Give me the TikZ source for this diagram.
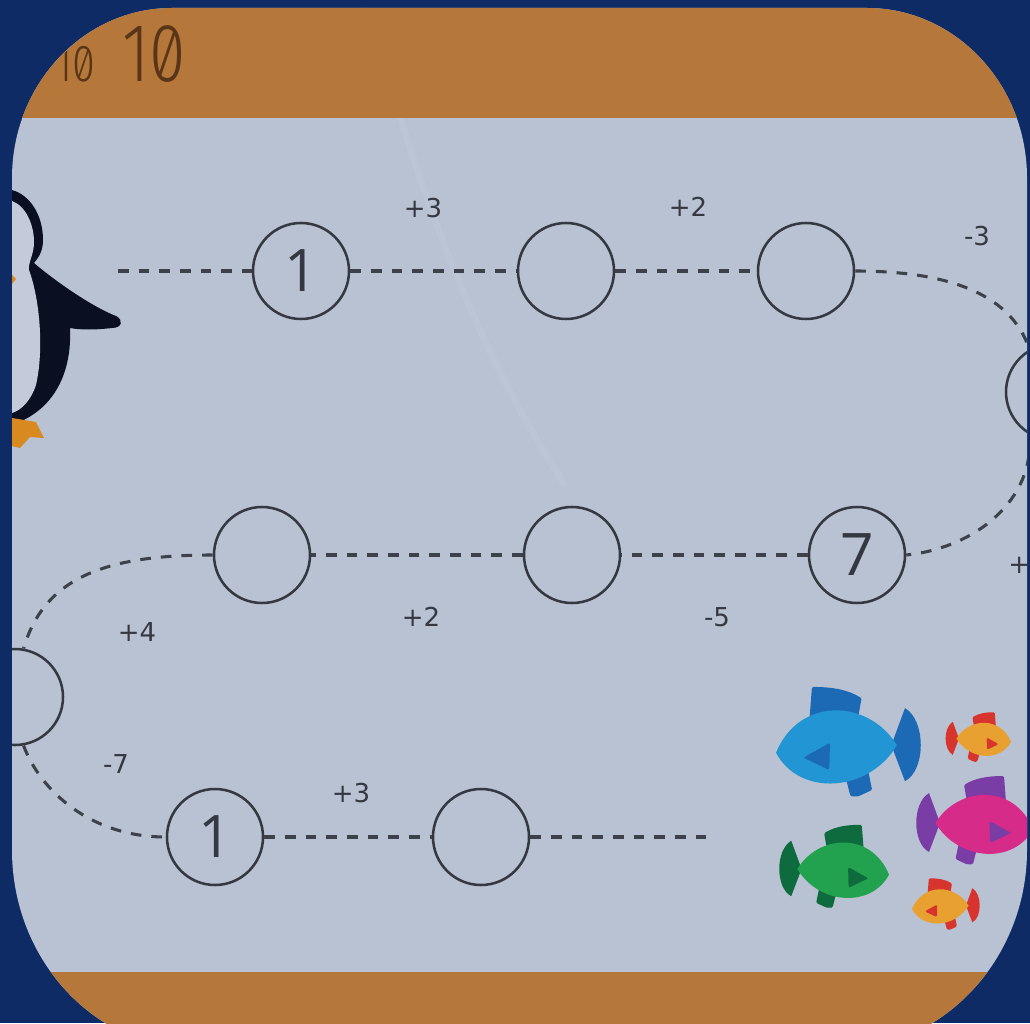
\documentclass[tikz,border=0pt]{standalone}
\usepackage{fontspec}
\setmainfont{Open Sans}
\newfontfamily\labelfont{DejaVu Sans}
\IfFontExistsTF{Fira Sans Light}
  {\newfontfamily\titlefont[FakeStretch=0.8, RawFeature=+zero]{Fira Sans Light}}
  {\newfontfamily\titlefont[FakeStretch=0.8, RawFeature=+zero]{Fira Sans}}
\definecolor{navy}{HTML}{0E2B66}
\definecolor{band}{HTML}{B5783A}
\definecolor{panel}{HTML}{B9C2D3}
\definecolor{ink}{HTML}{343842}
\definecolor{trailink}{HTML}{3C414C}
\definecolor{titleink}{HTML}{5A3518}
\definecolor{pengblack}{HTML}{0A0F22}
\definecolor{pengwhite}{HTML}{C3CADA}
\definecolor{pengorange}{HTML}{D98A1E}
\definecolor{blueA}{HTML}{2295D4}
\definecolor{blueB}{HTML}{1C6AB6}
\definecolor{greenA}{HTML}{22A24F}
\definecolor{greenB}{HTML}{0E6B3E}
\definecolor{pinkA}{HTML}{D62B88}
\definecolor{pinkB}{HTML}{7A3CA5}
\definecolor{goldA}{HTML}{E8A030}
\definecolor{goldB}{HTML}{D8342E}

% outline of the card with its wide rounded corners
\newcommand\cardoutline{(12,178) .. controls (12,84) and (84,8) .. (172,8)
  -- (867,8) .. controls (955,8) and (1027,84) .. (1027,178)
  -- (1027,850) .. controls (1027,960) and (942,1050) .. (837,1050)
  -- (200,1050) .. controls (95,1050) and (12,960) .. (12,850) -- cycle}

% one fish: x, y, size, direction (1 = facing right), body colour, fin colour
\newcommand\fish[6]{%
  \begin{scope}[shift={(#1,#2)}, xscale=#4*#3, yscale=#3]
    % tail
    \fill[#6] (-0.86,0.02) -- (-1.08,-0.58)
      .. controls (-1.42,-0.38) and (-1.42,0.42) .. (-1.08,0.6) -- cycle;
    % back fin
    \fill[#6, rounded corners=1pt] (0.46,-0.4) -- (0.42,-0.92)
      .. controls (0.1,-0.92) and (-0.15,-0.88) .. (-0.38,-0.74)
      -- (-0.32,-0.4) -- cycle;
    % belly fin
    \fill[#6, rounded corners=1pt] (-0.1,0.45) -- (-0.2,0.84) .. controls (-0.3,0.86) .. (-0.55,0.74)
      -- (-0.48,0.4) -- cycle;
    % body
    \fill[#5] (1,0.14) .. controls (0.62,-0.78) and (-0.5,-0.72) .. (-0.95,0.02)
      .. controls (-0.5,0.78) and (0.62,0.86) .. cycle;
    % eye
    \fill[#6, rounded corners=1.5pt] (0.56,0.22) -- (0.13,-0.02) -- (0.14,0.42) -- cycle;
  \end{scope}}

\tikzset{
  slot/.style={circle, draw=ink, line width=1.9pt, minimum size=72pt, inner sep=0pt,
    text=ink, font=\fontsize{44}{44}\selectfont},
  trail/.style={draw=trailink, line width=2.3pt, dash pattern=on 8pt off 7.5pt},
  stepnum/.style={text=ink, font=\labelfont\fontsize{19.5}{20}\selectfont, inner sep=0pt},
}

\begin{document}
\begin{tikzpicture}[x=0.75pt,y=-0.75pt]
  \useasboundingbox (0,0) rectangle (1030,1023);
  \fill[navy] (0,0) rectangle (1030,1023);

  \begin{scope}
    \clip \cardoutline;
    \fill[panel] (0,0) rectangle (1030,1060);
    % faint light reflection across the sheet
    \draw[white, opacity=0.05, line width=5pt] (365,0) .. controls (420,190) and (470,340) .. (565,485);
    \fill[band] (0,0) rectangle (1030,118);
    \fill[band] (0,972) rectangle (1030,1060);

    % heading
    \node[titleink, font=\titlefont\fontsize{39}{39}\selectfont, anchor=base west, inner sep=0pt]
      (hsmall) at (55,82) {10};
    \node[titleink, font=\titlefont\fontsize{62}{62}\selectfont, anchor=base west, inner sep=0pt]
      (hbig) at (122,82) {10};

    % penguin peeking in from the left
    \fill[pengblack] (12,190) .. controls (30,195) and (43,215) .. (43,240)
      .. controls (43,252) and (38,258) .. (34,263)
      .. controls (60,285) and (95,308) .. (116,316)
      .. controls (124,320) and (122,328) .. (112,328)
      .. controls (95,330) and (80,330) .. (70,328)
      .. controls (72,372) and (55,410) .. (12,425) -- cycle;
    \fill[pengwhite] (12,201) .. controls (26,206) and (34,225) .. (34,242)
      .. controls (34,255) and (28,262) .. (29,270)
      .. controls (40,300) and (44,350) .. (36,385)
      .. controls (31,400) and (22,410) .. (12,413) -- cycle;
    \fill[pengorange] (12,275) -- (16,279) -- (12,284) -- cycle;
    \fill[pengorange] (12,418) -- (36,422) -- (44,438) -- (30,437) -- (20,448) -- (12,446) -- cycle;

    % circles of the number trail
    \node[slot] (a1) at (301,271) {1};
    \node[slot] (a2) at (566,271) {};
    \node[slot] (a3) at (806,271) {};
    \node[slot] (r)  at (1054,392) {};
    \node[slot] (b3) at (857,555) {7};
    \node[slot] (b2) at (572,555) {};
    \node[slot] (b1) at (262,555) {};
    \node[slot] (c)  at (15,697) {};
    \node[slot] (d1) at (215,837) {1};
    \node[slot] (d2) at (481,837) {};
    \coordinate (start) at (118,271);
    \coordinate (finish) at (712,837);

    % dashed trail between the circles
    \draw[trail] (start) -- (a1);
    \draw[trail] (a1) -- (a2);
    \draw[trail] (a2) -- (a3);
    \draw[trail] (a3.east) .. controls (940,271) and (1010,290) .. (r.120);
    \draw[trail] (r.240) .. controls (1035,500) and (975,548) .. (b3.east);
    \draw[trail] (b3) -- (b2);
    \draw[trail] (b2) -- (b1);
    \draw[trail] (b1.west) .. controls (110,555) and (45,575) .. (c.80);
    \draw[trail] (c.280) .. controls (40,790) and (90,837) .. (d1.west);
    \draw[trail] (d1) -- (d2);
    \draw[trail] (d2) -- (finish);

    % step labels
    \node[stepnum] (s1) at (423,208) {+3};
    \node[stepnum] (s2) at (688,207) {+2};
    \node[stepnum] (s3) at (977,236) {-3};
    \node[stepnum, anchor=west] (s4) at (1008,565) {+};
    \node[stepnum] (s5) at (717,617) {-5};
    \node[stepnum] (s6) at (421,617) {+2};
    \node[stepnum] (s7) at (137,632) {+4};
    \node[stepnum] (s8) at (116,764) {-7};
    \node[stepnum] (s9) at (351,793) {+3};

    % fish
    \fish{838}{744}{62}{-1}{blueA}{blueB}
    \fish{983}{738}{28}{1}{goldA}{goldB}
    \fish{983}{822}{50}{1}{pinkA}{pinkB}
    \fish{842}{868}{47}{1}{greenA}{greenB}
    \fish{941}{905}{29}{-1}{goldA}{goldB}
  \end{scope}
\end{tikzpicture}
\end{document}
